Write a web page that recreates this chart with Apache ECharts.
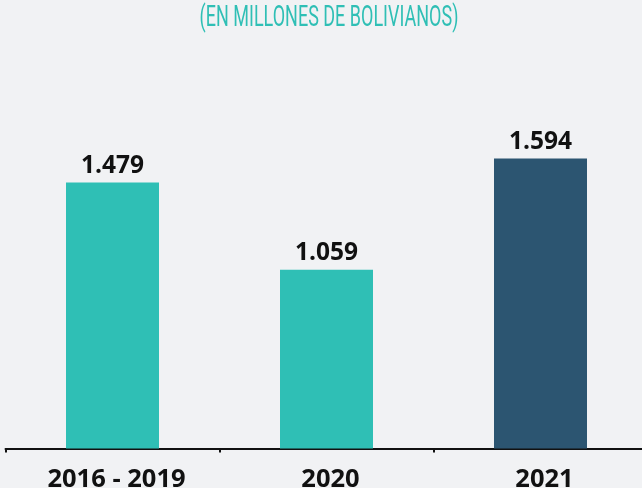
<!DOCTYPE html>
<html>
<head>
<meta charset="utf-8">
<script src="https://cdn.jsdelivr.net/npm/echarts@6/dist/echarts.min.js"></script>
<style>
  html, body { margin: 0; padding: 0; background: #f1f2f4; }
  #chart { width: 642px; height: 488px; }
</style>
</head>
<body>
<div id="chart"></div>
<script>
const categories = ["2016 - 2019", "2020", "2021"];
const values = [1.479, 1.059, 1.594];
const valueLabels = ["1.479", "1.059", "1.594"];
const barColors = ["#2fbfb5", "#2fbfb5", "#2c5571"];

const myChart = echarts.init(document.getElementById("chart"));

myChart.setOption({
  backgroundColor: "#f1f2f4",
  animation: false,
  graphic: [
    {
      type: "text",
      x: 329,
      y: 3,
      scaleX: 0.6,
      style: {
        text: "(EN MILLONES DE BOLIVIANOS)",
        font: "normal 30px Roboto",
        fill: "#2fbfb5",
        textAlign: "center"
      }
    }
  ],
  grid: {
    left: 5.5,
    width: 642,
    top: 74,
    bottom: 39.5,
    containLabel: false,
    outerBoundsMode: "none"
  },
  xAxis: {
    type: "category",
    data: categories,
    axisLine: { lineStyle: { color: "#111", width: 2 } },
    axisTick: { show: true, length: 4, lineStyle: { color: "#111", width: 2 } },
    axisLabel: {
      margin: 18,
      padding: [0, 0, 0, 8],
      color: "#111",
      fontFamily: "Open Sans",
      fontWeight: "bold",
      fontSize: 25.5
    }
  },
  yAxis: {
    type: "value",
    min: 0.2,
    max: 2.0,
    show: false,
    splitLine: { show: false }
  },
  series: [
    {
      type: "bar",
      barWidth: 93,
      data: values.map((v, i) => ({ value: v, itemStyle: { color: barColors[i] } })),
      label: {
        show: true,
        position: "top",
        distance: 4,
        color: "#111",
        fontFamily: "Open Sans",
        fontWeight: "bold",
        fontSize: 24.5,
        formatter: (p) => valueLabels[p.dataIndex]
      }
    }
  ]
});
</script>
</body>
</html>
